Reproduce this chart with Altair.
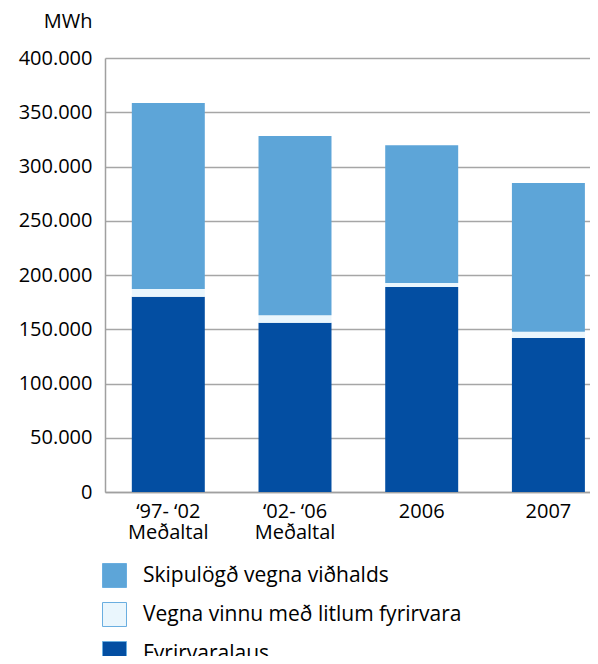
import altair as alt
import pandas as pd

categories = ["‘97- ‘02\nMeðaltal", "‘02- ‘06\nMeðaltal", "2006", "2007"]
series = ["Skipulögð vegna viðhalds", "Vegna vinnu með litlum fyrirvara", "Fyrirvaralaus"]
fyrirvaralaus = [180000, 156000, 189000, 142000]
litlum_fyrirvara = [7000, 7000, 3700, 5600]
skipulogd = [171500, 165000, 127000, 137300]
y_ticks = [0, 50000, 100000, 150000, 200000, 250000, 300000, 350000, 400000]

rows = []
for i, c in enumerate(categories):
    rows.append({"cat": c, "series": series[2], "value": fyrirvaralaus[i], "ord": 0})
    rows.append({"cat": c, "series": series[1], "value": litlum_fyrirvara[i], "ord": 1})
    rows.append({"cat": c, "series": series[0], "value": skipulogd[i], "ord": 2})
df = pd.DataFrame(rows)

FONT = "Open Sans"

chart = alt.Chart(df).mark_bar(strokeWidth=0).encode(
    x=alt.X("cat:N", sort=categories,
            scale=alt.Scale(paddingInner=0.424, paddingOuter=0.126, align=0.84),
            axis=alt.Axis(title=None, labelAngle=0, ticks=False, domain=True,
                          domainColor="#a0a0a0", domainWidth=1.5,
                          labelExpr="split(datum.label, '\\n')",
                          labelFont=FONT, labelFontSize=20, labelColor="#000000",
                          labelLineHeight=21, labelPadding=9, labelBaseline="top")),
    y=alt.Y("value:Q", stack="zero",
            scale=alt.Scale(domain=[0, 400000], nice=False),
            axis=alt.Axis(title="MWh", titleAngle=0, titleAlign="right", titleX=-13, titleY=-31,
                          titleBaseline="alphabetic",
                          titleFont=FONT, titleFontSize=20, titleFontWeight="normal", titleColor="#000000",
                          values=y_ticks, labelExpr="replace(format(datum.value, ',d'), ',', '.')",
                          labelFont=FONT, labelFontSize=20, labelColor="#000000", labelPadding=13,
                          ticks=False, domain=True, domainColor="#a0a0a0", domainWidth=1.5,
                          grid=True, gridColor="#a6a6a6", gridWidth=1.5)),
    color=alt.Color("series:N", sort=series,
                    scale=alt.Scale(domain=series, range=["#5DA5D8", "#EAF6FD", "#034EA2"]),
                    legend=alt.Legend(title=None, orient="none", legendX=-3, legendY=505,
                                      symbolType="square", symbolSize=576,
                                      symbolStrokeWidth=1, symbolStrokeColor="#6aaee0",
                                      labelFont=FONT, labelFontSize=21, labelColor="#000000",
                                      labelLimit=0, labelOffset=16, rowPadding=10, symbolOpacity=1)),
    order=alt.Order("ord:Q"),
).properties(
    width=485, height=434,
    autosize=alt.AutoSizeParams(type="none"),
    padding={"left": 97, "top": 50, "right": 0, "bottom": 164},
).configure_view(stroke=None)

chart.save("out.html", embed_options={"renderer": "svg", "actions": False})
